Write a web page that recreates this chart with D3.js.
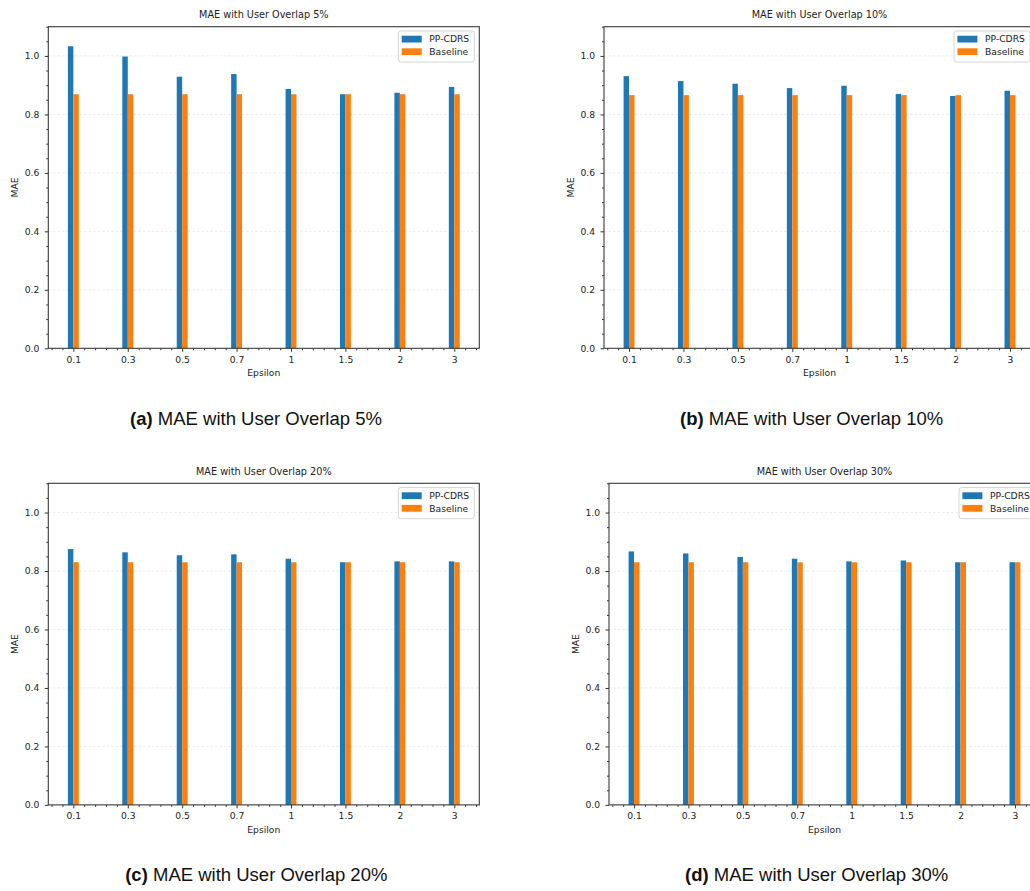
<!DOCTYPE html>
<html>
<head>
<meta charset="utf-8">
<script src="https://cdn.jsdelivr.net/npm/d3@7/dist/d3.min.js"></script>
<style>
  html, body { margin: 0; padding: 0; background: #fff; }
  svg { display: block; }
  .tick text { font-family: "DejaVu Sans", sans-serif; fill: #222; }
</style>
</head>
<body>
<svg id="chart" width="1030" height="891"></svg>
<script>
// Epsilon values on the x axis
const epsilonLabels = ["0.1", "0.3", "0.5", "0.7", "1", "1.5", "2", "3"];
const seriesNames = ["PP-CDRS", "Baseline"];
const yMajorTicks = [0.0, 0.2, 0.4, 0.6, 0.8, 1.0];

// MAE per epsilon, user overlap 5%
const ppcdrs05   = [1.033, 0.998, 0.929, 0.938, 0.887, 0.869, 0.874, 0.894];
const baseline05 = [0.869, 0.869, 0.869, 0.869, 0.869, 0.869, 0.869, 0.869];
// user overlap 10%
const ppcdrs10   = [0.931, 0.914, 0.905, 0.890, 0.898, 0.870, 0.863, 0.881];
const baseline10 = [0.866, 0.866, 0.866, 0.866, 0.866, 0.866, 0.866, 0.866];
// user overlap 20%
const ppcdrs20   = [0.875, 0.864, 0.854, 0.857, 0.842, 0.830, 0.833, 0.833];
const baseline20 = [0.830, 0.830, 0.830, 0.830, 0.830, 0.830, 0.830, 0.830];
// user overlap 30%
const ppcdrs30   = [0.867, 0.860, 0.848, 0.842, 0.833, 0.836, 0.830, 0.830];
const baseline30 = [0.830, 0.830, 0.830, 0.830, 0.830, 0.830, 0.830, 0.830];

const overlapLabels = ["5%", "10%", "20%", "30%"];
const panelLetters = ["a", "b", "c", "d"];
const panelSeries = [
  [ppcdrs05, baseline05],
  [ppcdrs10, baseline10],
  [ppcdrs20, baseline20],
  [ppcdrs30, baseline30]
];

const colors = ["#1f77b4", "#ff7f0e"];
const barWidth = 0.1;           // in category-index units
const plotW = 431, plotH = 321.6;

// Frame placement for each subplot, plus caption anchor
const layout = [
  { left: 48.3,  top: 26.7,  capX: 256,   capY: 425 },
  { left: 604,   top: 26.7,  capX: 811.7, capY: 425 },
  { left: 48.3,  top: 483.3, capX: 256.3, capY: 881 },
  { left: 609,   top: 483.3, capX: 816.7, capY: 881 }
];

const svg = d3.select("#chart");

layout.forEach((L, p) => {
  const g = svg.append("g").attr("transform", `translate(${L.left},${L.top})`);

  const x = d3.scaleLinear().domain([-0.46, epsilonLabels.length - 1 + 0.46]).range([0, plotW]);
  const y = d3.scaleLinear().domain([0, 1.1]).range([plotH, 0]);

  // horizontal dashed grid at major ticks
  g.append("g").selectAll("line")
    .data(yMajorTicks.filter(d => d > 0))
    .join("line")
    .attr("x1", 0).attr("x2", plotW)
    .attr("y1", d => y(d)).attr("y2", d => y(d))
    .attr("stroke", "#e4e4e4").attr("stroke-width", 0.7)
    .attr("stroke-dasharray", "2.5,2");

  // bars: PP-CDRS left of the category, Baseline right of it
  panelSeries[p].forEach((vals, s) => {
    g.append("g").selectAll("rect")
      .data(vals)
      .join("rect")
      .attr("x", (d, i) => x(i + (s === 0 ? -barWidth : 0)))
      .attr("width", x(barWidth) - x(0))
      .attr("y", d => y(d))
      .attr("height", d => y(0) - y(d))
      .attr("fill", colors[s]);
  });

  // y axis: major and minor ticks
  const yAxis = d3.axisLeft(y).tickValues(yMajorTicks)
    .tickFormat(d3.format(".1f")).tickSize(3.5).tickPadding(5.5);
  const yg = g.append("g").call(yAxis);
  yg.select(".domain").remove();
  yg.selectAll("text").attr("font-size", 9.2);
  yg.selectAll("line").attr("stroke", "#333");

  const yMinor = d3.range(0.05, 1.101, 0.05).filter(v => Math.abs(v / 0.2 - Math.round(v / 0.2)) > 1e-6);
  const ymg = g.append("g").call(d3.axisLeft(y).tickValues(yMinor).tickFormat("").tickSize(2));
  ymg.select(".domain").remove();
  ymg.selectAll("line").attr("stroke", "#333");

  // x axis: categories at integer positions, minor every 0.2
  const xAxis = d3.axisBottom(x).tickValues(d3.range(epsilonLabels.length))
    .tickFormat(i => epsilonLabels[i]).tickSize(3.5).tickPadding(4.5);
  const xg = g.append("g").attr("transform", `translate(0,${plotH})`).call(xAxis);
  xg.select(".domain").remove();
  xg.selectAll("text").attr("font-size", 9.2);
  xg.selectAll("line").attr("stroke", "#333");

  const xMinor = d3.range(-0.4, epsilonLabels.length - 1 + 0.41, 0.2)
    .filter(v => Math.abs(v - Math.round(v)) > 1e-6);
  const xmg = g.append("g").attr("transform", `translate(0,${plotH})`)
    .call(d3.axisBottom(x).tickValues(xMinor).tickFormat("").tickSize(2));
  xmg.select(".domain").remove();
  xmg.selectAll("line").attr("stroke", "#333");

  // axes frame
  g.append("rect").attr("width", plotW).attr("height", plotH)
    .attr("fill", "none").attr("stroke", "#3a3a3a").attr("stroke-width", 1.1);

  // subplot title and axis labels
  g.append("text").attr("x", plotW / 2).attr("y", -8.4)
    .attr("text-anchor", "middle")
    .attr("font-family", "DejaVu Sans, sans-serif").attr("font-size", 9.7).attr("fill", "#222")
    .text(`MAE with User Overlap ${overlapLabels[p]}`);

  g.append("text").attr("x", plotW / 2).attr("y", plotH + 27.7)
    .attr("text-anchor", "middle")
    .attr("font-family", "DejaVu Sans, sans-serif").attr("font-size", 9.2).attr("fill", "#222")
    .text("Epsilon");

  g.append("text")
    .attr("transform", `translate(${-30},${plotH / 2}) rotate(-90)`)
    .attr("text-anchor", "middle")
    .attr("font-family", "DejaVu Sans, sans-serif").attr("font-size", 9.2).attr("fill", "#222")
    .text("MAE");

  // legend in the upper right corner
  const lg = g.append("g").attr("transform", `translate(${plotW - 5 - 76},4.3)`);
  lg.append("rect").attr("width", 76).attr("height", 31).attr("rx", 2.5)
    .attr("fill", "#fff").attr("fill-opacity", 0.85)
    .attr("stroke", "#cfcfcf").attr("stroke-width", 0.9);
  seriesNames.forEach((name, s) => {
    lg.append("rect").attr("x", 3.4).attr("y", 4.7 + s * 12.6)
      .attr("width", 20).attr("height", 6.8).attr("fill", colors[s]);
    lg.append("text").attr("x", 31).attr("y", 11.3 + s * 12.7)
      .attr("font-family", "DejaVu Sans, sans-serif").attr("font-size", 9.2).attr("fill", "#222")
      .text(name);
  });

  // caption beneath the subplot
  const cap = svg.append("text").attr("x", L.capX).attr("y", L.capY)
    .attr("text-anchor", "middle")
    .attr("font-family", "Liberation Sans, Arial, sans-serif").attr("font-size", 18.5).attr("fill", "#111");
  cap.append("tspan").attr("font-weight", "bold").text(`(${panelLetters[p]})`);
  cap.append("tspan").text(` MAE with User Overlap ${overlapLabels[p]}`);
});
</script>
</body>
</html>
